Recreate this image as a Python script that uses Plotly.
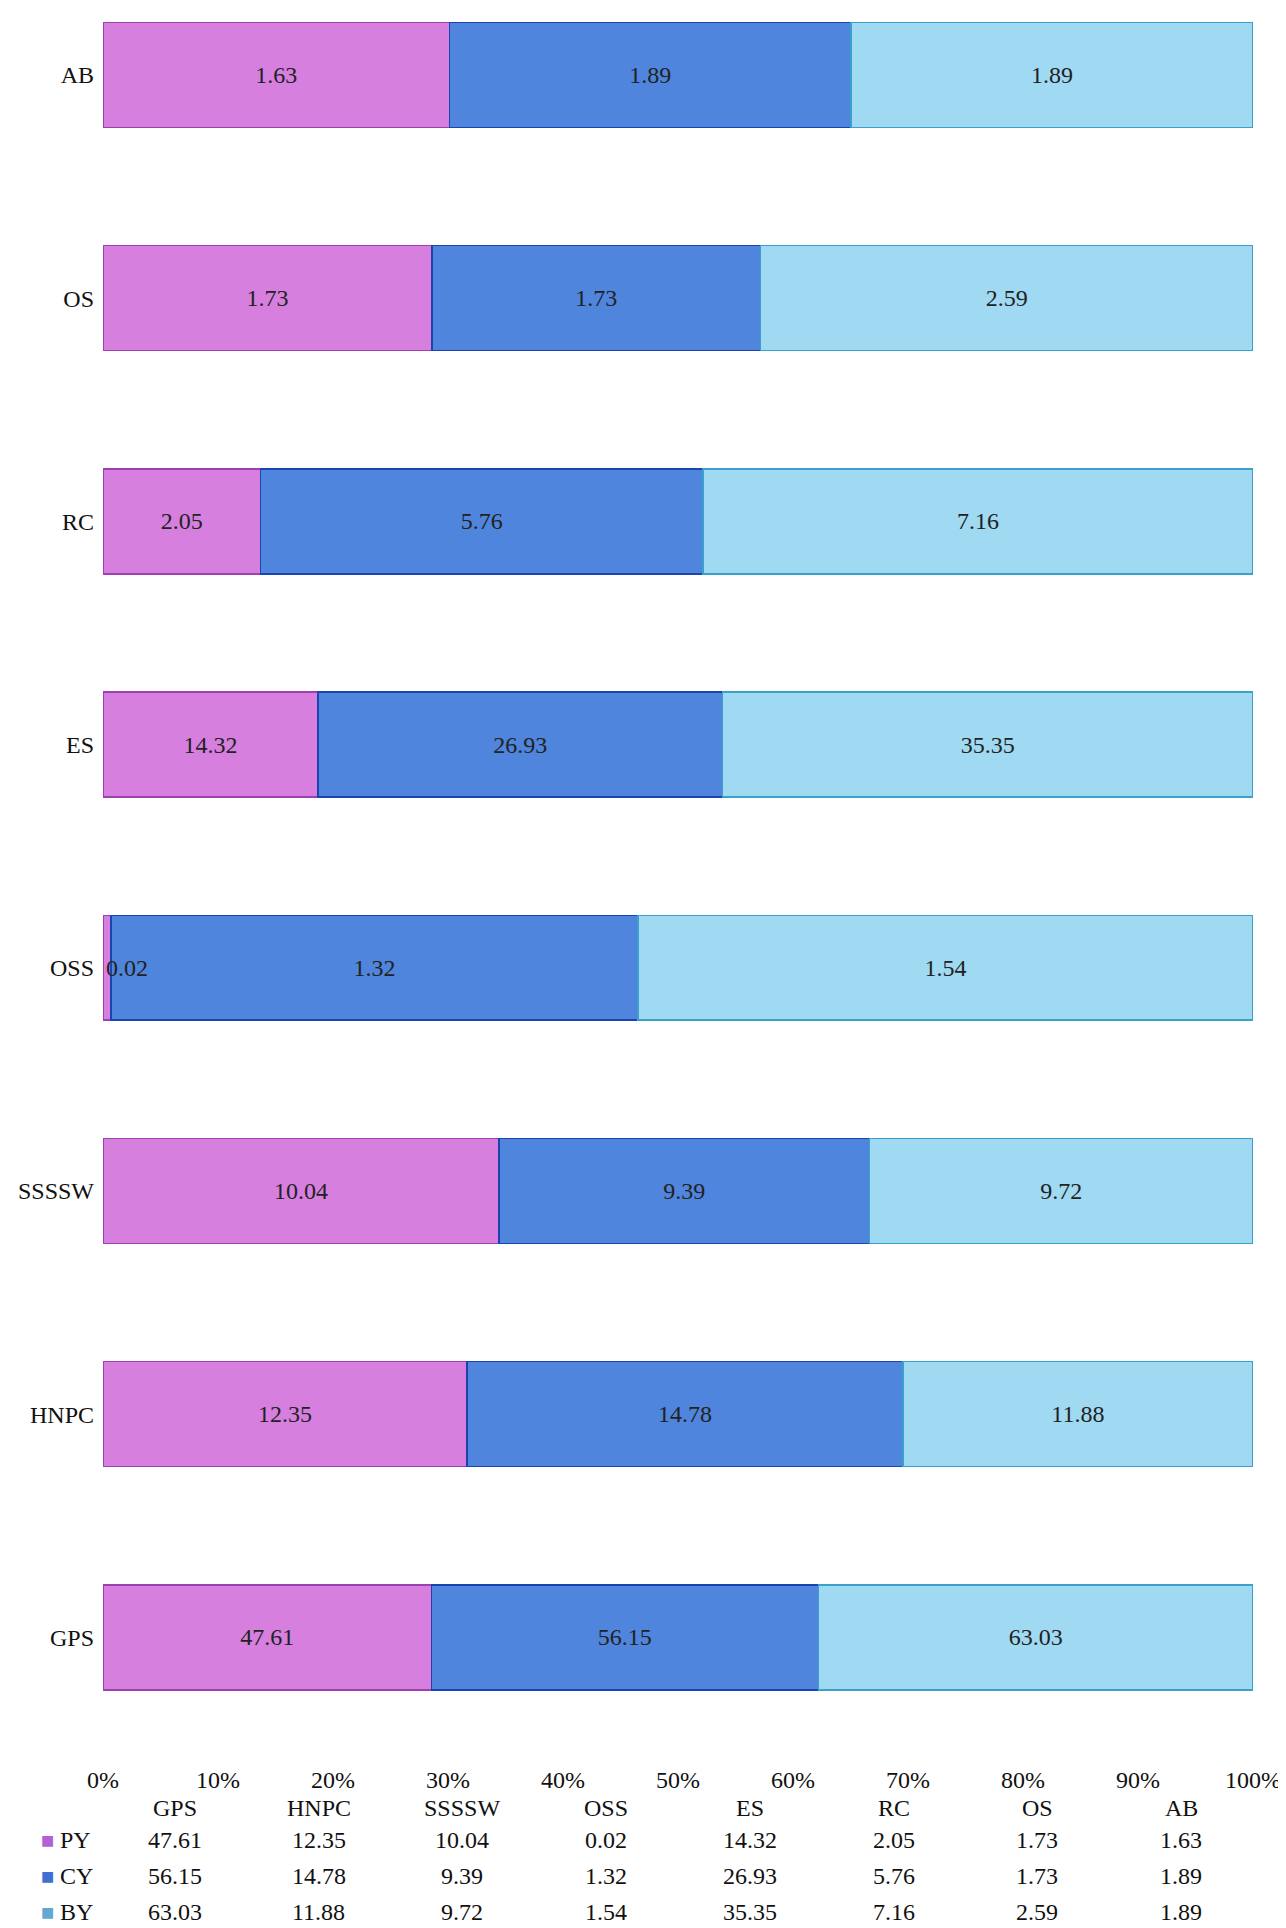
import plotly.graph_objects as go

categories = ["GPS", "HNPC", "SSSSW", "OSS", "ES", "RC", "OS", "AB"]
series_names = ["PY", "CY", "BY"]
py_vals = [47.61, 12.35, 10.04, 0.02, 14.32, 2.05, 1.73, 1.63]
cy_vals = [56.15, 14.78, 9.39, 1.32, 26.93, 5.76, 1.73, 1.89]
by_vals = [63.03, 11.88, 9.72, 1.54, 35.35, 7.16, 2.59, 1.89]
tick_vals = [0, 10, 20, 30, 40, 50, 60, 70, 80, 90, 100]
tick_text = ["0%", "10%", "20%", "30%", "40%", "50%", "60%", "70%", "80%", "90%", "100%"]

series = [py_vals, cy_vals, by_vals]
fills = ["#d67fdf", "#4f85dc", "#9fd9f2"]
edges = ["#a040b0", "#1c44b0", "#3aa0cc"]
key_cols = ["#b160d8", "#3f6fd0", "#62a8d0"]

FONT = "Liberation Serif"
FS = 24
W, H = 1286, 1928
top, bottom_px = 0, 1741
plot_h = bottom_px - top
left_m, right_m = 95, 41
plot_w = W - left_m - right_m

totals = [a + b + c for a, b, c in zip(py_vals, cy_vals, by_vals)]

fig = go.Figure()
annotations = []
for name, vals, fc, ec in zip(series_names, series, fills, edges):
    positions = []
    for i, v in enumerate(vals):
        pct = v / totals[i] * 100
        if pct < 3:
            positions.append("none")
            annotations.append(dict(x=0, y=categories[i], xref="x", yref="y",
                                    xanchor="left", yanchor="middle", xshift=1,
                                    text=f"{v:.2f}", showarrow=False,
                                    font=dict(family=FONT, size=FS, color="#222222")))
        else:
            positions.append("inside")
    fig.add_trace(go.Bar(
        y=categories, x=vals, orientation="h", name=name,
        marker=dict(color=fc, line=dict(color=ec, width=1.5)),
        text=[f"{v:.2f}" for v in vals], texttemplate="%{text}",
        textposition=positions, insidetextanchor="middle", textangle=0,
        constraintext="none", cliponaxis=False,
        textfont=dict(family=FONT, size=FS, color="#222222"),
        hoverinfo="skip",
    ))

def py2paper(p):
    return (bottom_px - p) / plot_h

n = len(categories)
col_w = 100.0 / n
for i, c in enumerate(categories):
    annotations.append(dict(x=(i + 0.5) * col_w, y=py2paper(1800), xref="x", yref="paper",
                            text=c, showarrow=False, font=dict(family=FONT, size=FS, color="#111111"),
                            xanchor="center", yanchor="middle"))
row_y = [1832, 1868, 1904]
for r, (name, vals, kc) in enumerate(zip(series_names, series, key_cols)):
    yy = py2paper(row_y[r])
    for i, v in enumerate(vals):
        annotations.append(dict(x=(i + 0.5) * col_w, y=yy, xref="x", yref="paper",
                                text=f"{v:.2f}", showarrow=False,
                                font=dict(family=FONT, size=FS, color="#111111"),
                                xanchor="center", yanchor="middle"))
    annotations.append(dict(x=(50 - left_m) / plot_w, y=yy, xref="paper", yref="paper",
                            xanchor="left", yanchor="middle",
                            text=name, showarrow=False, font=dict(family=FONT, size=FS, color="#111111")))
    annotations.append(dict(x=(31 - left_m) / plot_w, y=yy, xref="paper", yref="paper",
                            xanchor="left", yanchor="middle",
                            text="■", showarrow=False, font=dict(family="DejaVu Sans", size=14, color=kc)))

fig.update_layout(
    width=W, height=H,
    barmode="stack", barnorm="percent", bargap=0.53,
    showlegend=False,
    plot_bgcolor="white", paper_bgcolor="white",
    margin=dict(l=left_m, r=right_m, t=top, b=H - bottom_px, pad=0),
    xaxis=dict(range=[0, 100.001], tickvals=tick_vals, ticktext=tick_text,
               showgrid=False, zeroline=False, showline=False,
               ticks="", ticklabelstandoff=14,
               tickfont=dict(family=FONT, size=FS, color="#111111")),
    yaxis=dict(categoryorder="array", categoryarray=categories,
               range=[-0.5, 7.3], showgrid=False, zeroline=False, showline=False,
               ticks="", ticklabelstandoff=8,
               tickfont=dict(family=FONT, size=FS, color="#111111")),
    annotations=annotations,
)

fig.write_html("out.html")
